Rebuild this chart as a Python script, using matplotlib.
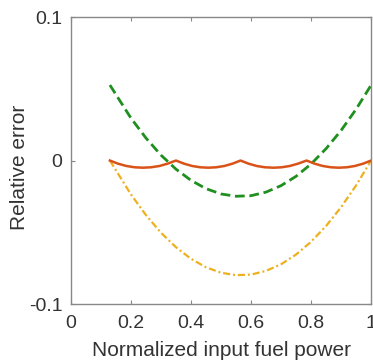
import matplotlib
matplotlib.use('Agg')
import matplotlib.pyplot as plt
from matplotlib.ticker import FixedLocator, FixedFormatter

plt.rcParams['font.family'] = ['Liberation Sans', 'DejaVu Sans']

# quadratic-fit curve (green dashed)
x_quad = [0.13, 0.2, 0.25, 0.3, 0.35, 0.4, 0.45, 0.5, 0.55, 0.6, 0.65, 0.7,
          0.75, 0.8, 0.85, 0.9, 0.95, 1.0]
y_green = [0.0526, 0.0296, 0.0157, 0.0038, -0.006, -0.0138, -0.0196, -0.0233,
           -0.0249, -0.0245, -0.022, -0.0175, -0.011, -0.0024, 0.0083, 0.021,
           0.0358, 0.0526]
# yellow dash-dot curve
y_yellow = [0.0, -0.0236, -0.038, -0.0503, -0.0604, -0.0685, -0.0744, -0.0782,
            -0.0799, -0.0795, -0.0769, -0.0723, -0.0655, -0.0566, -0.0456,
            -0.0325, -0.0173, 0.0]

# piecewise curve (red solid), cusps at 0.13, 0.35, 0.565, 0.785, 1.0
x_red = [0.13, 0.157, 0.185, 0.212, 0.24, 0.267, 0.295, 0.322,
         0.35, 0.377, 0.404, 0.431, 0.457, 0.484, 0.511, 0.538,
         0.565, 0.592, 0.619, 0.646, 0.675, 0.702, 0.729, 0.756,
         0.785, 0.812, 0.839, 0.866, 0.892, 0.919, 0.946, 0.973, 1.0]
y_red = [0.0, -0.0022, -0.0038, -0.0047, -0.005, -0.0047, -0.0038, -0.0022,
         0.0, -0.0022, -0.0038, -0.0047, -0.005, -0.0047, -0.0038, -0.0022,
         0.0, -0.0022, -0.0038, -0.0047, -0.005, -0.0047, -0.0038, -0.0022,
         0.0, -0.0022, -0.0038, -0.0047, -0.005, -0.0047, -0.0038, -0.0022, 0.0]

x_ticks = [0, 0.2, 0.4, 0.6, 0.8, 1]
x_labels = ['0', '0.2', '0.4', '0.6', '0.8', '1']
y_ticks = [-0.1, 0, 0.1]
y_labels = ['-0.1', '0', '0.1']

fig = plt.figure(figsize=(3.73, 3.63), dpi=100)
ax = fig.add_axes([0.19, 0.1625, 0.805, 0.7905])

ax.plot(x_quad, y_green, color='#1f8f1f', lw=2, dashes=(3.5, 1.7))
ax.plot(x_quad, y_yellow, color='#EDB120', lw=1.6, dashes=(3.2, 1.3, 0.9, 1.3))
ax.plot(x_red, y_red, color='#D95319', lw=1.8)

ax.set_xlim(0, 1)
ax.set_ylim(-0.1, 0.1)
ax.xaxis.set_major_locator(FixedLocator(x_ticks))
ax.xaxis.set_major_formatter(FixedFormatter(x_labels))
ax.yaxis.set_major_locator(FixedLocator(y_ticks))
ax.yaxis.set_major_formatter(FixedFormatter(y_labels))

for s in ax.spines.values():
    s.set_color('#888888')
    s.set_linewidth(1.0)
ax.tick_params(direction='in', length=3, color='#888888', labelcolor='#333333',
               labelsize=14, top=True, right=True)
ax.tick_params(axis='x', pad=8)
ax.tick_params(axis='y', pad=6)

ax.set_xlabel('Normalized input fuel power', fontsize=15, color='#333333')
ax.set_ylabel('Relative error', fontsize=15, color='#333333')
ax.xaxis.set_label_coords(0.5, -0.128)
ax.yaxis.set_label_coords(-0.14, 0.476)

fig.savefig('out.png', dpi=100)
